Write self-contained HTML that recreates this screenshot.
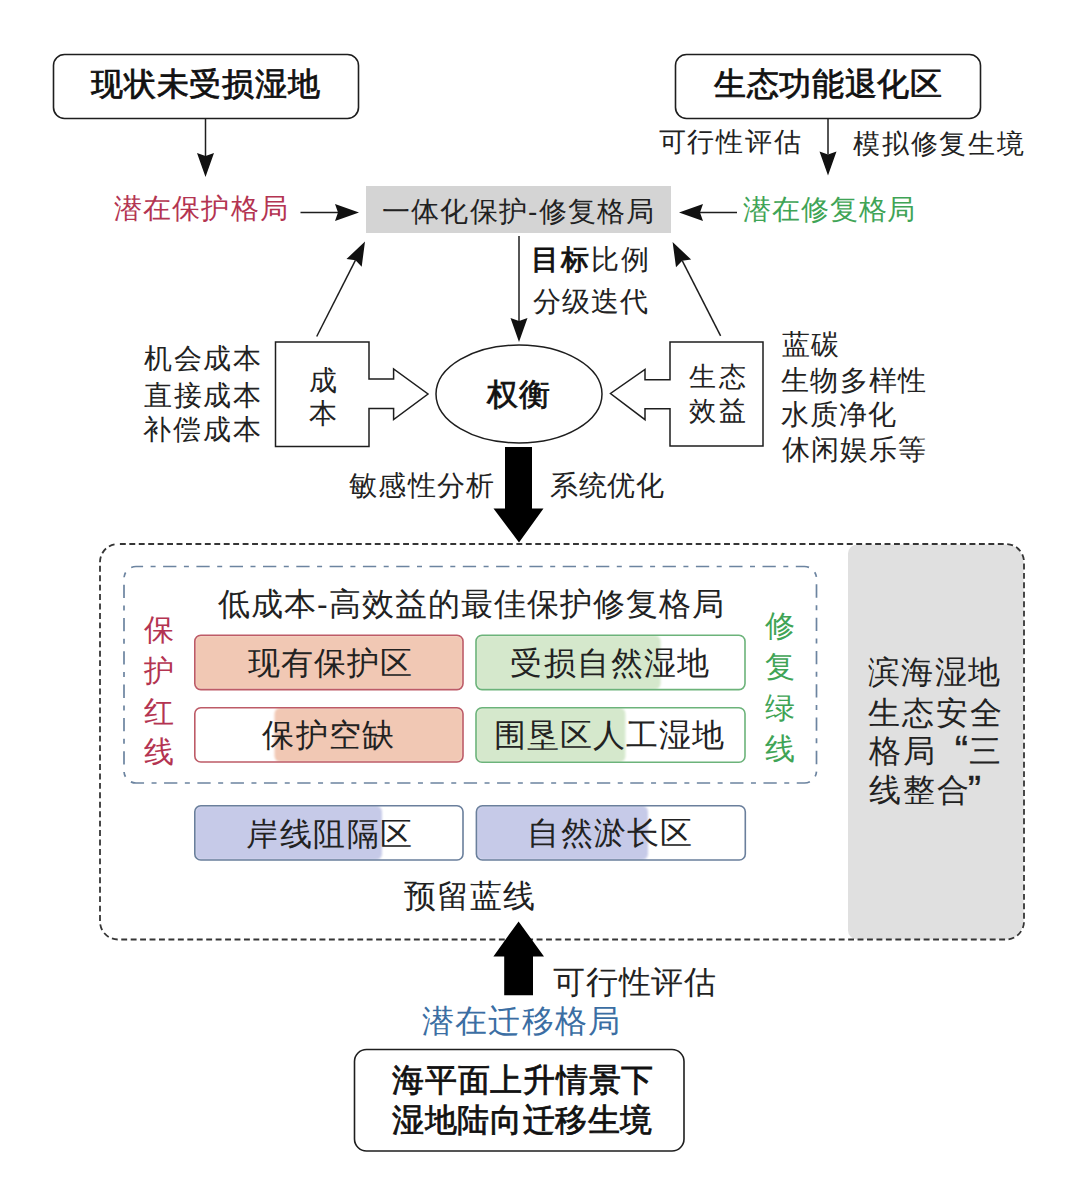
<!DOCTYPE html>
<html><head><meta charset="utf-8"><style>
html,body{margin:0;padding:0;background:#fff;width:1080px;height:1180px;overflow:hidden}
body{position:relative;font-family:"Liberation Sans",sans-serif}
.t{position:absolute;white-space:nowrap}
.q1{display:inline-block;width:0.8em;font-size:1.25em;line-height:0;text-align:right;padding-right:0;box-sizing:border-box;-webkit-text-stroke:0.4px #222;position:relative;left:1px;top:2px}
.q2{display:inline-block;width:0.8em;font-size:1.25em;line-height:0;text-align:left;-webkit-text-stroke:0.4px #222;position:relative;left:-3px;top:3px}
b{font-weight:normal;-webkit-text-stroke:0.9px #111;color:#111}
svg{position:absolute;left:0;top:0}
</style></head><body>
<svg width="1080" height="1180"><filter id="soft" x="-5%" y="-5%" width="110%" height="110%"><feGaussianBlur stdDeviation="0.8"/></filter><rect x="53.5" y="54.5" width="305" height="64" rx="11" fill="#fff" stroke="#1e1e1e" stroke-width="1.6"/>
<rect x="675.5" y="54.5" width="305" height="64" rx="11" fill="#fff" stroke="#1e1e1e" stroke-width="1.6"/>
<line x1="205.5" y1="119.0" x2="205.5" y2="156.0" stroke="#1e1e1e" stroke-width="1.5"/>
<polygon points="205.5,177.0 197.0,153.0 205.5,156.0 214.0,153.0" fill="#111"/>
<line x1="828.0" y1="119.0" x2="828.0" y2="154.5" stroke="#1e1e1e" stroke-width="1.5"/>
<polygon points="828.0,175.5 819.5,151.5 828.0,154.5 836.5,151.5" fill="#111"/>
<rect x="366" y="186" width="305" height="47" fill="#d4d4d4"/>
<line x1="300.5" y1="212.5" x2="338.0" y2="212.5" stroke="#1e1e1e" stroke-width="1.5"/>
<polygon points="359.0,212.5 335.0,221.0 338.0,212.5 335.0,204.0" fill="#111"/>
<line x1="737.0" y1="212.5" x2="700.0" y2="212.5" stroke="#1e1e1e" stroke-width="1.5"/>
<polygon points="679.0,212.5 703.0,204.0 700.0,212.5 703.0,221.0" fill="#111"/>
<line x1="519.0" y1="236.0" x2="519.0" y2="321.0" stroke="#1e1e1e" stroke-width="1.5"/>
<polygon points="519.0,342.0 510.5,318.0 519.0,321.0 527.5,318.0" fill="#111"/>
<line x1="316.7" y1="336.5" x2="355.5" y2="260.2" stroke="#1e1e1e" stroke-width="1.5"/>
<polygon points="365.0,241.5 361.7,266.7 355.5,260.2 346.5,259.0" fill="#111"/>
<line x1="720.6" y1="335.8" x2="682.2" y2="260.7" stroke="#1e1e1e" stroke-width="1.5"/>
<polygon points="672.6,242.0 691.1,259.5 682.2,260.7 676.0,267.2" fill="#111"/>
<polygon points="275.5,342 369,342 369,379 393.6,379 393.6,369 428,394 393.6,419.6 393.6,408.5 369,408.5 369,446.5 275.5,446.5" fill="#fff" stroke="#1e1e1e" stroke-width="1.5"/>
<polygon points="763,342 670,342 670,379.7 645,379.7 645,369.4 610.5,393.5 645,419.7 645,408.7 670,408.7 670,446 763,446" fill="#fff" stroke="#1e1e1e" stroke-width="1.5"/>
<ellipse cx="519" cy="394" rx="83" ry="49" fill="#fff" stroke="#1e1e1e" stroke-width="1.5"/>
<polygon points="505,447 532,447 532,508.5 543.5,508.5 519,542.5 493.5,508.5 505,508.5" fill="#000"/>
<path d="M857,544.5 H1005.5 A18,18 0 0 1 1023.5,562.5 V921.5 A18,18 0 0 1 1005.5,939.5 H857 A9,9 0 0 1 848,930.5 V553.5 A9,9 0 0 1 857,544.5 Z" fill="#e0e0e0"/>
<rect x="100" y="544" width="924" height="395.5" rx="18" fill="none" stroke="#353535" stroke-width="1.8" stroke-dasharray="5.9 3.54" stroke-dashoffset="-1.9"/>
<rect x="124" y="566.5" width="692.5" height="216.5" rx="12" fill="none" stroke="#6c84a0" stroke-width="1.7" stroke-dasharray="13.3 7.5 5 7.5" stroke-dashoffset="6.2"/>
<clipPath id="c1"><rect x="194.8" y="635.3" width="268.2" height="54.30000000000007" rx="6"/></clipPath>
<rect x="194.8" y="635.3" width="268.2" height="54.30000000000007" rx="6" fill="#fff"/>
<rect x="194.8" y="635.3" width="268.2" height="54.30000000000007" rx="6" fill="#f1c8b4" clip-path="url(#c1)" filter="url(#soft)"/>
<rect x="194.8" y="635.3" width="268.2" height="54.30000000000007" rx="6" fill="none" stroke="#bd5b67" stroke-width="1.6"/>
<clipPath id="c2"><rect x="194.8" y="707.8" width="268.2" height="54.200000000000045" rx="6"/></clipPath>
<rect x="194.8" y="707.8" width="268.2" height="54.200000000000045" rx="6" fill="#fff"/>
<rect x="274.5" y="707.8" width="188.5" height="54.200000000000045" rx="6" fill="#f1c8b4" clip-path="url(#c2)" filter="url(#soft)"/>
<rect x="194.8" y="707.8" width="268.2" height="54.200000000000045" rx="6" fill="none" stroke="#bd5b67" stroke-width="1.6"/>
<clipPath id="c3"><rect x="476" y="635.3" width="269" height="54.30000000000007" rx="6"/></clipPath>
<rect x="476" y="635.3" width="269" height="54.30000000000007" rx="6" fill="#fff"/>
<rect x="476" y="635.3" width="184.60000000000002" height="54.30000000000007" rx="6" fill="#d5e8cc" clip-path="url(#c3)" filter="url(#soft)"/>
<rect x="476" y="635.3" width="269" height="54.30000000000007" rx="6" fill="none" stroke="#6cb37a" stroke-width="1.6"/>
<clipPath id="c4"><rect x="476" y="707.8" width="269" height="54.40000000000009" rx="6"/></clipPath>
<rect x="476" y="707.8" width="269" height="54.40000000000009" rx="6" fill="#fff"/>
<rect x="476" y="707.8" width="149.39999999999998" height="54.40000000000009" rx="6" fill="#d5e8cc" clip-path="url(#c4)" filter="url(#soft)"/>
<rect x="476" y="707.8" width="269" height="54.40000000000009" rx="6" fill="none" stroke="#6cb37a" stroke-width="1.6"/>
<clipPath id="c5"><rect x="194.8" y="805.8" width="268.2" height="54.200000000000045" rx="6"/></clipPath>
<rect x="194.8" y="805.8" width="268.2" height="54.200000000000045" rx="6" fill="#fff"/>
<rect x="194.8" y="805.8" width="187.2" height="54.200000000000045" rx="6" fill="#c6cae8" clip-path="url(#c5)" filter="url(#soft)"/>
<rect x="194.8" y="805.8" width="268.2" height="54.200000000000045" rx="6" fill="none" stroke="#6a7f9c" stroke-width="1.6"/>
<clipPath id="c6"><rect x="476.4" y="805.8" width="268.9" height="54.200000000000045" rx="6"/></clipPath>
<rect x="476.4" y="805.8" width="268.9" height="54.200000000000045" rx="6" fill="#fff"/>
<rect x="476.4" y="805.8" width="171.60000000000002" height="54.200000000000045" rx="6" fill="#c6cae8" clip-path="url(#c6)" filter="url(#soft)"/>
<rect x="476.4" y="805.8" width="268.9" height="54.200000000000045" rx="6" fill="none" stroke="#6a7f9c" stroke-width="1.6"/>
<polygon points="518.6,921.4 544,956.4 533,956.4 533,995.3 504.2,995.3 504.2,956.4 493.4,956.4" fill="#000"/>
<rect x="354.5" y="1049.5" width="329.5" height="101.5" rx="12" fill="#fff" stroke="#1e1e1e" stroke-width="1.6"/></svg>
<div id="t1" class="t" style="left:91.00px;top:68.18px;font-size:32px;line-height:32px;letter-spacing:0.83px;color:#111;-webkit-text-stroke:0.8px #111">现状未受损湿地</div>
<div id="t2" class="t" style="left:714.00px;top:68.19px;font-size:32px;line-height:32px;letter-spacing:0.67px;color:#111;-webkit-text-stroke:0.8px #111">生态功能退化区</div>
<div id="t3" class="t" style="left:658.50px;top:128.76px;font-size:27px;line-height:27px;letter-spacing:1.88px;color:#222;">可行性评估</div>
<div id="t4" class="t" style="left:853.00px;top:130.56px;font-size:27px;line-height:27px;letter-spacing:1.80px;color:#222;">模拟修复生境</div>
<div id="t5" class="t" style="left:114.00px;top:195.45px;font-size:28px;line-height:28px;letter-spacing:1.16px;color:#b43451;">潜在保护格局</div>
<div id="t6" class="t" style="left:382.00px;top:197.92px;font-size:28px;line-height:28px;letter-spacing:1.22px;color:#222;">一体化保护-修复格局</div>
<div id="t7" class="t" style="left:742.90px;top:196.09px;font-size:28px;line-height:28px;letter-spacing:0.92px;color:#3fa456;">潜在修复格局</div>
<div id="t8" class="t" style="left:531.00px;top:246.36px;font-size:28px;line-height:28px;letter-spacing:2.00px;color:#222;"><b>目标</b>比例</div>
<div id="t9" class="t" style="left:533.00px;top:288.36px;font-size:28px;line-height:28px;letter-spacing:1.00px;color:#222;">分级迭代</div>
<div id="t10" class="t" style="left:144.20px;top:345.34px;font-size:28px;line-height:28px;letter-spacing:1.60px;color:#222;">机会成本</div>
<div id="t11" class="t" style="left:144.20px;top:381.84px;font-size:28px;line-height:28px;letter-spacing:1.60px;color:#222;">直接成本</div>
<div id="t12" class="t" style="left:143.20px;top:415.94px;font-size:28px;line-height:28px;letter-spacing:1.93px;color:#222;">补偿成本</div>
<div id="t13" class="t" style="left:308.50px;top:367.06px;font-size:28px;line-height:28px;letter-spacing:0.00px;color:#222;">成</div>
<div id="t14" class="t" style="left:308.50px;top:400.36px;font-size:28px;line-height:28px;letter-spacing:0.00px;color:#222;">本</div>
<div id="t15" class="t" style="left:487.00px;top:378.51px;font-size:31px;line-height:31px;letter-spacing:1.00px;color:#111;-webkit-text-stroke:0.8px #111">权衡</div>
<div id="t16" class="t" style="left:689.00px;top:364.37px;font-size:27px;line-height:27px;letter-spacing:3.00px;color:#222;">生态</div>
<div id="t17" class="t" style="left:689.00px;top:398.27px;font-size:27px;line-height:27px;letter-spacing:3.00px;color:#222;">效益</div>
<div id="t18" class="t" style="left:782.00px;top:331.35px;font-size:28px;line-height:28px;letter-spacing:1.00px;color:#222;">蓝碳</div>
<div id="t19" class="t" style="left:781.00px;top:367.34px;font-size:28px;line-height:28px;letter-spacing:1.25px;color:#222;">生物多样性</div>
<div id="t20" class="t" style="left:781.00px;top:401.35px;font-size:28px;line-height:28px;letter-spacing:1.00px;color:#222;">水质净化</div>
<div id="t21" class="t" style="left:782.00px;top:436.44px;font-size:28px;line-height:28px;letter-spacing:1.00px;color:#222;">休闲娱乐等</div>
<div id="t22" class="t" style="left:349.00px;top:472.05px;font-size:28px;line-height:28px;letter-spacing:1.27px;color:#222;">敏感性分析</div>
<div id="t23" class="t" style="left:550.00px;top:471.86px;font-size:28px;line-height:28px;letter-spacing:0.67px;color:#222;">系统优化</div>
<div id="t24" class="t" style="left:218.00px;top:588.24px;font-size:32px;line-height:32px;letter-spacing:1.00px;color:#222;">低成本-高效益的最佳保护修复格局</div>
<div id="t27" class="t" style="left:248.00px;top:646.89px;font-size:32px;line-height:32px;letter-spacing:0.95px;color:#222;">现有保护区</div>
<div id="t28" class="t" style="left:262.40px;top:719.08px;font-size:32px;line-height:32px;letter-spacing:1.20px;color:#222;">保护空缺</div>
<div id="t29" class="t" style="left:510.40px;top:646.68px;font-size:32px;line-height:32px;letter-spacing:1.40px;color:#222;">受损自然湿地</div>
<div id="t30" class="t" style="left:494.00px;top:718.69px;font-size:32px;line-height:32px;letter-spacing:1.00px;color:#222;">围垦区人工湿地</div>
<div id="t31" class="t" style="left:246.10px;top:818.17px;font-size:32px;line-height:32px;letter-spacing:1.48px;color:#222;">岸线阻隔区</div>
<div id="t32" class="t" style="left:527.40px;top:817.21px;font-size:32px;line-height:32px;letter-spacing:1.15px;color:#222;">自然淤长区</div>
<div id="t33" class="t" style="left:404.00px;top:879.68px;font-size:32px;line-height:32px;letter-spacing:1.00px;color:#222;">预留蓝线</div>
<div id="t34" class="t" style="left:868.10px;top:655.77px;font-size:32px;line-height:32px;letter-spacing:1.23px;color:#222;">滨海湿地</div>
<div id="t35" class="t" style="left:868.10px;top:697.17px;font-size:32px;line-height:32px;letter-spacing:1.90px;color:#222;">生态安全</div>
<div id="t36" class="t" style="left:869.10px;top:734.57px;font-size:32px;line-height:32px;letter-spacing:1.90px;color:#222;">格局<span class="q1">“</span>三</div>
<div id="t37" class="t" style="left:869.10px;top:773.77px;font-size:32px;line-height:32px;letter-spacing:1.90px;color:#222;">线整合<span class="q2">”</span></div>
<div id="t38" class="t" style="left:552.80px;top:965.69px;font-size:32px;line-height:32px;letter-spacing:0.90px;color:#222;">可行性评估</div>
<div id="t39" class="t" style="left:421.80px;top:1005.19px;font-size:32px;line-height:32px;letter-spacing:1.32px;color:#3b6ea3;">潜在迁移格局</div>
<div id="t40" class="t" style="left:392.00px;top:1063.69px;font-size:32px;line-height:32px;letter-spacing:0.77px;color:#111;-webkit-text-stroke:0.8px #111">海平面上升情景下</div>
<div id="t41" class="t" style="left:392.00px;top:1103.69px;font-size:32px;line-height:32px;letter-spacing:0.63px;color:#111;-webkit-text-stroke:0.8px #111">湿地陆向迁移生境</div>
<div id="v1" class="t" style="left:144.00px;top:610.22px;font-size:30px;line-height:40.73px;color:#b43451;font-weight:normal">保<br>护<br>红<br>线</div>
<div id="v2" class="t" style="left:765.00px;top:605.14px;font-size:30px;line-height:41.03px;color:#3fa456;font-weight:normal">修<br>复<br>绿<br>线</div>
</body></html>
